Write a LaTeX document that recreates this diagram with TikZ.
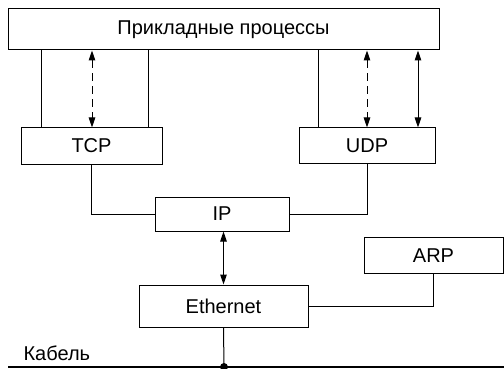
\documentclass[tikz,border=0pt]{standalone}
\usepackage{fontspec}
\setmainfont{Liberation Sans}
\usetikzlibrary{arrows.meta}
\begin{document}
\begin{tikzpicture}[x=1pt,y=-1pt,
  box/.style={draw,line width=1pt,inner sep=0pt,font=\fontsize{20}{24}\selectfont},
  link/.style={line width=1pt},
  both/.style={line width=1pt,{Triangle[length=10pt,width=6.5pt]}-{Triangle[length=10pt,width=6.5pt]}},
  dsh/.style={dash pattern=on 8pt off 5pt}]
\useasboundingbox (0,0) rectangle (504,369);
\node[box,minimum width=431pt,minimum height=41pt] (app) at (223.5,29.5) {Прикладные процессы};
\node[box,minimum width=141pt,minimum height=36pt] (tcp) at (91.5,146) {TCP};
\node[box,minimum width=136pt,minimum height=35pt] (udp) at (367,145.5) {UDP};
\node[box,minimum width=134pt,minimum height=34pt] (ip) at (222,214) {IP};
\node[box,minimum width=139pt,minimum height=36pt] (arp) at (433.5,255.5) {ARP};
\node[box,minimum width=169pt,minimum height=42pt] (eth) at (223.5,306) {Ethernet};
\node[anchor=base west,font=\fontsize{20}{24}\selectfont] (cab) at (20,360) {Кабель};
\coordinate (cl) at (8,367);
\coordinate (cr) at (504,367);
\draw[line width=1.6pt] (cl) -- (cr);
\coordinate (tap) at (224,367);
% app <-> TCP
\draw[link] (app.south -| 41,0) -- (tcp.north -| 41,0);
\draw[both,dsh] (app.south -| 92,0) -- (tcp.north -| 92,0);
\draw[link] (app.south -| 148,0) -- (tcp.north -| 148,0);
% app <-> UDP
\draw[link] (app.south -| 318,0) -- (udp.north -| 318,0);
\draw[both,dsh] (app.south -| 367,0) -- (udp.north -| 367,0);
\draw[both] (app.south -| 418,0) -- (udp.north -| 418,0);
% TCP/UDP to IP
\draw[link] (tcp.south) |- (ip.west);
\draw[link] (udp.south) |- (ip.east);
% IP <-> Ethernet
\draw[both] (ip.south -| eth.north) -- (eth.north);
% Ethernet to ARP
\draw[link] (eth.east) -| (arp.south);
% Ethernet to cable
\draw[link] (eth.south) -- (tap);
\fill (tap) circle (4pt);
\end{tikzpicture}
\end{document}
